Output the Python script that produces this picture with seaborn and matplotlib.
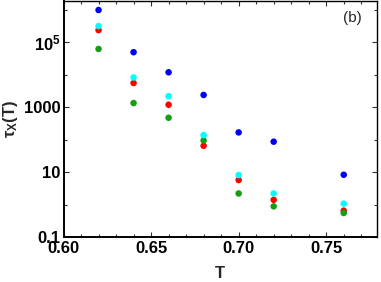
import numpy as np
import pandas as pd
import matplotlib
matplotlib.use("Agg")
import matplotlib.pyplot as plt
import seaborn as sns
from matplotlib.ticker import FixedLocator, FixedFormatter, MultipleLocator, NullFormatter

# Data
T = [0.62, 0.64, 0.66, 0.68, 0.70, 0.72, 0.76]
tau_red = [2.4e5, 5.6e3, 1.2e3, 65, 5.7, 1.4, 0.65]
tau_green = [6.3e4, 1350, 475, 95, 2.2, 0.88, 0.55]
tau_cyan = [3.2e5, 8.3e3, 2.2e3, 139, 8.1, 2.2, 1.07]
tau_blue = [1.0e6, 5.0e4, 1.2e4, 2.4e3, 168, 87, 8.3]

series = ["red", "green", "cyan", "blue"]
colors = ["#ff0000", "#12a012", "#00ffff", "#0000f2"]

ytick_vals = [0.1, 10, 1000, 1e5]
ytick_labels = ["0.1", "10", "1000", r"$\mathbf{10^5}$"]
yminor_vals = [1, 100, 1e4, 1e6]
xtick_vals = [0.60, 0.65, 0.70, 0.75]
xtick_labels = ["0.60", "0.65", "0.70", "0.75"]

df = pd.DataFrame({
    "T": T * 4,
    "tau": tau_red + tau_green + tau_cyan + tau_blue,
    "s": sum([[s] * len(T) for s in series], []),
})

sns.set_style("ticks")
plt.rcParams["font.family"] = ["Liberation Sans", "DejaVu Sans"]
plt.rcParams["mathtext.fontset"] = "custom"
plt.rcParams["mathtext.rm"] = "Liberation Sans:bold"
plt.rcParams["mathtext.it"] = "Liberation Sans:bold"
plt.rcParams["mathtext.bf"] = "Liberation Sans:bold"

fig = plt.figure(figsize=(3.81, 2.82), dpi=100)
ax = fig.add_axes([0.1667, 0.1596, 0.8228, 0.8369])

sns.scatterplot(data=df, x="T", y="tau", hue="s", hue_order=series,
                palette=colors, s=22, linewidth=0, legend=False, ax=ax)

ax.set_yscale("log")
ax.set_xlim(0.60, 0.779)
ax.set_ylim(0.1, 1.9e6)

ax.yaxis.set_major_locator(FixedLocator(ytick_vals))
ax.yaxis.set_major_formatter(FixedFormatter(ytick_labels))
ax.yaxis.set_minor_locator(FixedLocator(yminor_vals))
ax.yaxis.set_minor_formatter(NullFormatter())
ax.xaxis.set_major_locator(FixedLocator(xtick_vals))
ax.xaxis.set_major_formatter(FixedFormatter(xtick_labels))
ax.xaxis.set_minor_locator(MultipleLocator(0.01))
ax.xaxis.set_minor_formatter(NullFormatter())

ax.tick_params(which="both", direction="in", top=True, right=True,
               labelsize=12, color="#333333", labelcolor="black")
ax.tick_params(axis="y", pad=2)
ax.tick_params(axis="x", pad=3)
ax.tick_params(which="major", length=3.5, width=0.8)
ax.tick_params(which="minor", length=2, width=0.8)
for lbl in ax.get_xticklabels() + ax.get_yticklabels():
    lbl.set_fontweight("bold")

for side in ["left", "bottom"]:
    ax.spines[side].set_linewidth(1.4)
for side in ["top", "right"]:
    ax.spines[side].set_linewidth(1.0)
for sp in ax.spines.values():
    sp.set_color("black")

ax.set_xlabel("T", fontsize=12, fontweight="bold", labelpad=7)
ax.set_ylabel(r"$\tau_X$(T)", fontsize=12, fontweight="bold", labelpad=3)
ax.text(0.92, 0.93, "(b)", transform=ax.transAxes, fontsize=11,
        ha="center", va="center")

plt.savefig("out.png", dpi=100)
plt.close()
